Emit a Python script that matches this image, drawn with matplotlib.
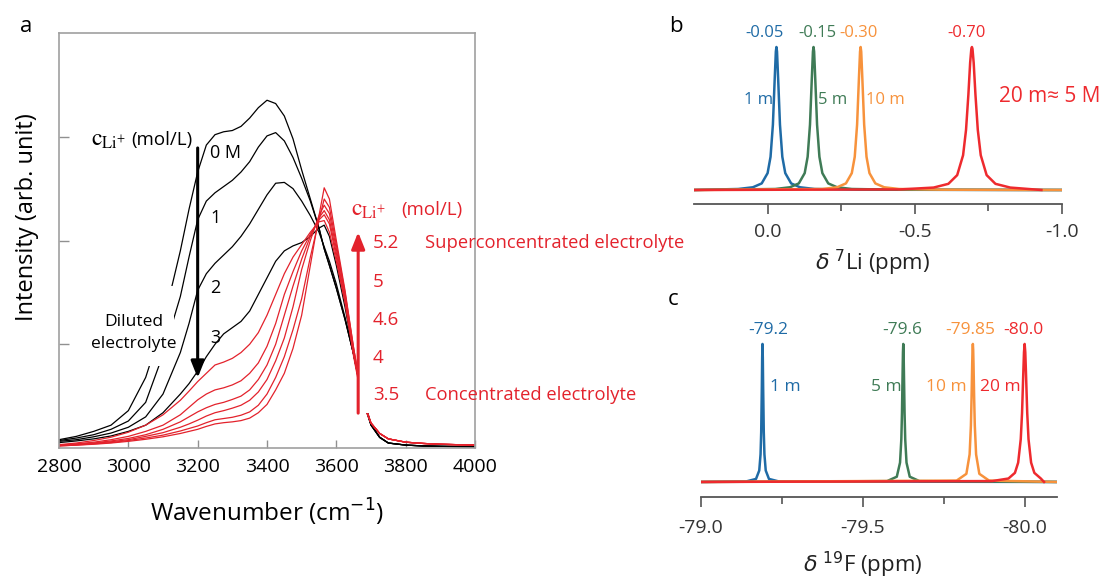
import matplotlib
matplotlib.use("Agg")
import matplotlib.pyplot as plt
from matplotlib.patches import Rectangle

plt.rcParams['font.family'] = ['Open Sans', 'DejaVu Sans']
plt.rcParams['axes.unicode_minus'] = False

# ---------------- panel a : IR spectra ----------------
wavenumber = [2800, 2850, 2900, 2950, 3000, 3050, 3100, 3150, 3175, 3200, 3225, 3250, 3275, 3300,
              3325, 3350, 3375, 3400, 3425, 3450, 3475, 3500, 3525, 3550, 3565, 3580, 3600, 3625,
              3650, 3675, 3700, 3725, 3750, 3800, 3850, 3900, 4000]

# diluted electrolytes, 0 / 1 / 2 / 3 M (black)
ir_0M = [.020, .028, .040, .055, .09, .17, .30, .475, .575, .665, .73, .755, .762, .765,
         .775, .795, .82, .838, .83, .80, .745, .67, .60, .53, .48, .44, .385, .31,
         .225, .13, .058, .026, .012, .007, .005, .004, .003]
ir_1M = [.018, .024, .032, .045, .065, .11, .225, .365, .46, .55, .595, .615, .63, .645,
         .665, .69, .725, .752, .76, .74, .70, .65, .595, .53, .48, .44, .385, .31,
         .225, .125, .056, .026, .012, .007, .005, .004, .003]
ir_2M = [.016, .020, .027, .036, .05, .075, .13, .23, .30, .38, .42, .445, .465, .485,
         .51, .54, .575, .61, .638, .64, .625, .595, .56, .52, .485, .45, .395, .315,
         .225, .12, .055, .026, .012, .007, .005, .004, .003]
ir_3M = [.013, .017, .022, .029, .04, .055, .085, .13, .155, .185, .22, .25, .275, .29,
         .305, .33, .37, .41, .45, .475, .487, .495, .51, .53, .537, .51, .44, .34,
         .225, .12, .055, .025, .012, .007, .005, .004, .003]
black_spectra = [ir_0M, ir_1M, ir_2M, ir_3M]

# concentrated electrolytes 3.5 ... 5.2 M (red)
ir_r0 = [.008, .012, .018, .026, .038, .055, .08, .115, .137, .16, .18, .20, .207, .216,
         .23, .25, .278, .32, .37, .42, .46, .49, .52, .545, .548, .52, .45, .35,
         .22, .11, .06, .035, .022, .014, .011, .009, .007]
ir_r1 = [.007, .010, .014, .020, .028, .04, .055, .08, .098, .116, .13, .14, .145, .152,
         .162, .18, .205, .245, .30, .37, .425, .475, .515, .55, .562, .54, .46, .355,
         .225, .115, .06, .035, .022, .014, .011, .009, .007]
ir_r2 = [.006, .009, .012, .017, .023, .032, .045, .063, .075, .087, .097, .105, .11, .117,
         .125, .14, .165, .20, .25, .32, .39, .455, .51, .555, .572, .55, .47, .36,
         .23, .115, .06, .035, .022, .014, .011, .009, .007]
ir_r3 = [.006, .008, .011, .015, .020, .028, .037, .05, .058, .067, .077, .085, .09, .096,
         .103, .115, .135, .165, .21, .265, .34, .43, .50, .56, .585, .565, .48, .37,
         .235, .118, .06, .035, .022, .014, .011, .009, .007]
ir_r4 = [.005, .007, .010, .013, .018, .024, .031, .041, .047, .053, .061, .068, .071, .074,
         .079, .087, .103, .13, .17, .22, .285, .36, .46, .55, .60, .58, .49, .375,
         .24, .12, .06, .035, .022, .014, .011, .009, .007]
ir_r5 = [.005, .007, .009, .012, .016, .021, .027, .035, .040, .045, .052, .058, .061, .063,
         .066, .072, .085, .105, .14, .18, .24, .32, .44, .56, .627, .60, .50, .38,
         .24, .12, .06, .035, .022, .014, .011, .009, .007]
red_spectra = [ir_r0, ir_r1, ir_r2, ir_r3, ir_r4, ir_r5]

black_labels = ["0 M", "1", "2", "3"]
red_labels = ["5.2", "5", "4.6", "4", "3.5"]

# ---------------- panel b : 7Li NMR ----------------
li_blue_ppm = [0.25, 0.10, 0.05, 0.02, 0.0, -0.01, -0.018, -0.024, -0.028, -0.03,
               -0.032, -0.036, -0.042, -0.05, -0.06, -0.08, -0.11, -0.16, -0.31, -1.0]
li_green_ppm = [0.25, -0.026, -0.076, -0.106, -0.126, -0.136, -0.144, -0.15, -0.154, -0.156,
                -0.158, -0.162, -0.168, -0.176, -0.186, -0.206, -0.236, -0.286, -0.436, -1.0]
li_orange_ppm = [0.25, -0.186, -0.236, -0.266, -0.286, -0.296, -0.304, -0.31, -0.314, -0.316,
                 -0.318, -0.322, -0.328, -0.336, -0.346, -0.366, -0.396, -0.446, -0.596, -1.0]
li_narrow_int = [0.0, 0.007, 0.019, 0.046, 0.118, 0.232, 0.457, 0.77, 0.968, 1.0,
                 0.968, 0.77, 0.457, 0.232, 0.118, 0.046, 0.019, 0.007, 0.002, 0.0]
li_red_ppm = [0.25, -0.45, -0.564, -0.614, -0.644, -0.664, -0.674, -0.682, -0.688, -0.692, -0.694,
              -0.696, -0.70, -0.706, -0.714, -0.724, -0.744, -0.774, -0.824, -0.93]
li_red_int = [0.0, 0.004, 0.017, 0.043, 0.104, 0.243, 0.42, 0.667, 0.89, 0.986, 1.0,
              0.986, 0.89, 0.667, 0.42, 0.243, 0.104, 0.043, 0.017, 0.0]
li_shift_labels = ["-0.05", "-0.15", "-0.30", "-0.70"]
li_conc_labels = ["1 m", "5 m", "10 m", "20 m\u2248 5 M"]

# ---------------- panel c : 19F NMR ----------------
f_blue_ppm = [-79.0, -79.14, -79.17, -79.18, -79.184, -79.186, -79.188, -79.189, -79.19,
              -79.191, -79.192, -79.194, -79.196, -79.2, -79.21, -79.24, -80.1]
f_blue_int = [0, .004, .022, .083, .2, .36, .69, .9, 1, .9, .69, .36, .2, .083, .022, .004, 0]
f_green_ppm = [-79.0, -79.575, -79.605, -79.615, -79.619, -79.621, -79.623, -79.624, -79.625,
               -79.626, -79.627, -79.629, -79.631, -79.635, -79.645, -79.675, -80.1]
f_green_int = [0, .006, .038, .14, .31, .5, .8, .94, 1, .94, .8, .5, .31, .14, .038, .006, 0]
f_orange_ppm = [-79.0, -79.79, -79.82, -79.83, -79.834, -79.836, -79.838, -79.839, -79.84,
                -79.841, -79.842, -79.844, -79.846, -79.85, -79.86, -79.89, -80.1]
f_orange_int = [0, .01, .059, .2, .41, .61, .86, .96, 1, .96, .86, .61, .41, .2, .059, .01, 0]
f_red_ppm = [-79.0, -79.9, -79.95, -79.97, -79.98, -79.988, -79.992, -79.996, -79.998, -80.0,
             -80.002, -80.004, -80.008, -80.012, -80.02, -80.03, -80.05, -80.06]
f_red_int = [0, .0064, .025, .066, .14, .31, .5, .8, .94, 1, .94, .8, .5, .31, .14, .066, .025, 0]
f_shift_labels = ["-79.2", "-79.6", "-79.85", "-80.0"]
f_conc_labels = ["1 m", "5 m", "10 m", "20 m"]

nmr_colors = ["#1f6ba6", "#3f7b56", "#f7923c", "#ee2a2e"]
ir_red = "#e3222c"

W, H = 1105, 579
fig = plt.figure(figsize=(W / 100, H / 100), dpi=100)


def box(x0, y0, x1, y1):
    # pixel box (top-left origin) -> figure fraction rect
    return [x0 / W, 1 - y1 / H, (x1 - x0) / W, (y1 - y0) / H]


def ftext(x, y, s, **kw):
    fig.text(x / W, 1 - y / H, s, **kw)


# ---- panel a ----
ax = fig.add_axes(box(59, 33, 475, 448))
for spec in black_spectra:
    ax.plot(wavenumber, spec, color="black", lw=0.9, zorder=2)
for spec in red_spectra:
    ax.plot(wavenumber, spec, color=ir_red, lw=0.9, zorder=2)
ax.set_xlim(2800, 4000)
ax.set_ylim(0, 1)
ax.set_xticks(range(2800, 4001, 200))
ax.set_yticks([0.25, 0.5, 0.75])
ax.set_yticklabels([])
ax.tick_params(direction="in", length=6, width=1, color="#909090", labelsize=14, pad=7)
ax.tick_params(axis="y", length=7)
for sp in ax.spines.values():
    sp.set_color("#a0a0a0")
    sp.set_linewidth(1.2)

# white patches behind the labels
ax.add_patch(Rectangle((2904, 0.198), 228, 0.192, facecolor="white", edgecolor="none", zorder=3))
ax.add_patch(Rectangle((3666, 0.085), 320, 0.535, facecolor="white", edgecolor="none", zorder=3))

ax.annotate("", xy=(3200, 0.169), xytext=(3200, 0.723),
            arrowprops=dict(arrowstyle="-|>,head_length=0.5,head_width=0.2", lw=2.2,
                            color="black", mutation_scale=20, shrinkA=0, shrinkB=0), zorder=5)
ax.annotate("", xy=(3663, 0.52), xytext=(3663, 0.084),
            arrowprops=dict(arrowstyle="-|>,head_length=0.5,head_width=0.2", lw=2.2,
                            color=ir_red, mutation_scale=20, shrinkA=0, shrinkB=0), zorder=5)

ftext(20, 32, "a", fontsize=16, va="baseline")
ftext(27, 217, "Intensity (arb. unit)", fontsize=17, rotation=90, ha="center", va="center")
ftext(267, 512, "Wavenumber (cm$^{-1}$)", fontsize=17.5, ha="center", va="center")

ftext(91, 140, r"$\mathrm{c}_{\mathrm{Li}^{+}}$", fontsize=17, va="center", math_fontfamily="stix")
ftext(131, 140, "(mol/L)", fontsize=13.5, va="center")
for lab, y in zip(black_labels, [153, 218, 288, 338]):
    ftext(210, y, lab, fontsize=13, va="center")
ftext(134, 333, "Diluted\nelectrolyte", fontsize=12.5, ha="center", va="center",
      multialignment="center", linespacing=1.45)

ftext(351, 210, r"$\mathrm{c}_{\mathrm{Li}^{+}}$", fontsize=17, va="center",
      color=ir_red, math_fontfamily="stix")
ftext(401, 210, "(mol/L)", fontsize=13.5, va="center", color=ir_red)
for lab, y in zip(red_labels, [243, 282, 320, 358, 395]):
    ftext(373, y, lab, fontsize=13.5, va="center", color=ir_red)
ftext(425, 243, "Superconcentrated electrolyte", fontsize=13.2, va="center", color=ir_red)
ftext(425, 395, "Concentrated electrolyte", fontsize=13.2, va="center", color=ir_red)


def nmr_axes(rect, xlim, ylim, ticks, minor, labels, pad):
    a = fig.add_axes(rect)
    a.set_xlim(*xlim)
    a.set_ylim(*ylim)
    for s in ["top", "left", "right"]:
        a.spines[s].set_visible(False)
    a.spines["bottom"].set_color("#555555")
    a.spines["bottom"].set_linewidth(1.3)
    a.set_yticks([])
    a.set_xticks(ticks)
    a.set_xticklabels(labels)
    a.set_xticks(minor, minor=True)
    a.tick_params(axis="x", which="major", direction="out", length=7, width=1.2,
                  color="#555555", labelsize=14, labelcolor="#333333", pad=pad)
    a.tick_params(axis="x", which="minor", direction="out", length=5, width=1.2, color="#555555")
    a.patch.set_alpha(0)
    return a


# ---- panel b ----
axb = nmr_axes(box(694, 40, 1062, 204), (0.25, -1.0), (-0.098, 1.049),
               [0.0, -0.5, -1.0], [-0.25, -0.75], ["0.0", "-0.5", "-1.0"], 7)
axb.plot(li_blue_ppm, li_narrow_int, color=nmr_colors[0], lw=1.8)
axb.plot(li_green_ppm, li_narrow_int, color=nmr_colors[1], lw=1.8)
axb.plot(li_orange_ppm, li_narrow_int, color=nmr_colors[2], lw=1.8)
axb.plot(li_red_ppm, li_red_int, color=nmr_colors[3], lw=1.8)

ftext(669, 32, "b", fontsize=16, va="baseline")
for lab, x, c in zip(li_shift_labels, [765, 817, 859, 967], nmr_colors):
    ftext(x, 33, lab, fontsize=12, ha="center", va="center", color=c)
for lab, x, c in zip(li_conc_labels[:3], [759, 833, 885], nmr_colors):
    ftext(x, 100, lab, fontsize=12, ha="center", va="center", color=c)
ftext(1050, 97, li_conc_labels[3], fontsize=15, ha="center", va="center", color=nmr_colors[3])
ftext(873, 263, r"$\delta$ $^{7}$Li (ppm)", fontsize=16, ha="center", va="center", color="#222222")

# ---- panel c ----
axc = nmr_axes(box(701, 330, 1057, 497), (-79.0, -80.1), (-0.109, 1.101),
               [-79.0, -79.5, -80.0], [-79.25, -79.75], ["-79.0", "-79.5", "-80.0"], 9)
axc.plot(f_blue_ppm, f_blue_int, color=nmr_colors[0], lw=1.8)
axc.plot(f_green_ppm, f_green_int, color=nmr_colors[1], lw=1.8)
axc.plot(f_orange_ppm, f_orange_int, color=nmr_colors[2], lw=1.8)
axc.plot(f_red_ppm, f_red_int, color=nmr_colors[3], lw=1.8)

ftext(668, 305, "c", fontsize=16, va="baseline")
for lab, x, c in zip(f_shift_labels, [768, 902, 970, 1023], nmr_colors):
    ftext(x, 330, lab, fontsize=12.5, ha="center", va="center", color=c)
for lab, x, c in zip(f_conc_labels, [785, 886, 946, 1000], nmr_colors):
    ftext(x, 387, lab, fontsize=12.5, ha="center", va="center", color=c)
ftext(863, 565, r"$\delta$ $^{19}$F (ppm)", fontsize=16, ha="center", va="center", color="#222222")

fig.savefig("out.png", dpi=100, facecolor="white")
